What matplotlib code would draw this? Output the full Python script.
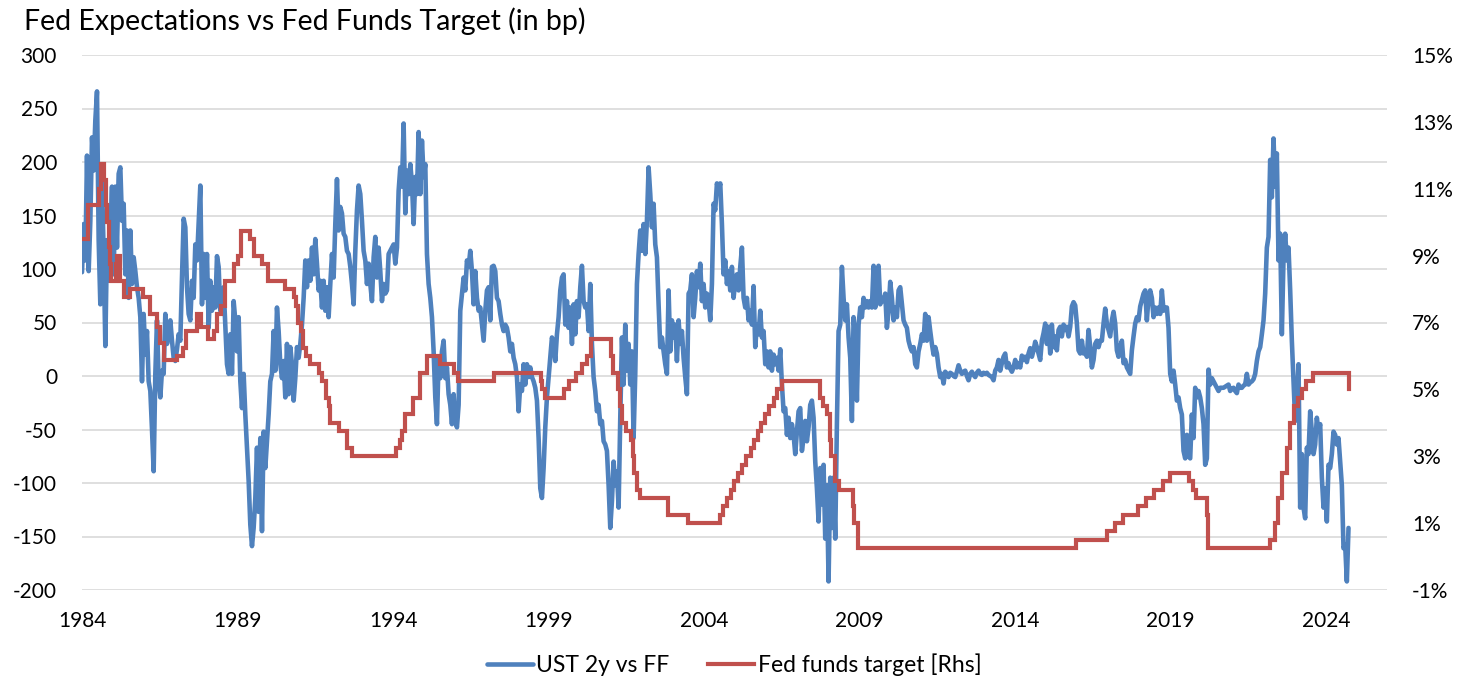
import pandas as pd
import numpy as np
import matplotlib
matplotlib.use('Agg')
import matplotlib.pyplot as plt
import matplotlib.dates as mdates

plt.rcParams['font.family'] = ['Lato', 'DejaVu Sans']
plt.rcParams['axes.unicode_minus'] = False

# UST 2y yield minus fed funds (bp), evenly spaced readings, Jan 1984 - Sep 2024
ust_1984_1990 = [97, 142, 108, 206, 98, 145, 223, 192, 239, 266,
                 127, 67, 183, 115, 28, 127, 89, 136, 177, 95,
                 177, 120, 189, 195, 145, 161, 95, 136, 73, 136,
                 86, 111, 98, 83, 73, 55, -5, 58, 20, 42,
                 -5, -14, -50, -89, 2, 52, -5, -20, 5, 2,
                 58, 30, 40, 52, 33, 17, 14, 25, 39, 33,
                 92, 147, 139, 83, 58, 52, 89, 73, 123, 108,
                 142, 178, 67, 114, 73, 114, 45, 89, 61, 83,
                 64, 112, 102, 61, 70, 83, 48, 11, 2, 39,
                 2, 70, 52, 23, 55, -5, -30, 2, -36, -67,
                 -98, -139, -159, -142, -114, -67, -127, -58, -145, -52,
                 -86, -61, -36, -5, 2, 42, 5, 64, 42, 11,
                 -2, 14, -20, 30, -17]
ust_1990_1997 = [27, 11, -23, -2, 27, 17, 30, 48, 73, 108,
                 83, 108, 89, 120, 95, 128, 105, 80, 89, 64,
                 89, 61, 83, 55, 86, 114, 92, 142, 184, 136,
                 158, 152, 133, 130, 117, 114, 102, 86, 67, 117,
                 155, 178, 170, 145, 117, 108, 86, 105, 86, 70,
                 111, 130, 92, 120, 98, 70, 86, 77, 80, 114,
                 117, 120, 123, 105, 120, 173, 195, 177, 236, 152,
                 192, 170, 198, 180, 142, 186, 170, 228, 170, 220,
                 186, 198, 114, 86, 73, 55, 23, -20, -45, 17,
                 -2, 23, 33, -2, 8, -17, -27, -45, -17, -42,
                 -48, -27, 61, 77, 92, 80, 108, 102, 117, 98,
                 67, 98, 73, 61, 64, 48, 33, 61, 80, 83,
                 52, 102, 103, 98, 73, 70, 58, 48, 42]
ust_1997_2004 = [48, 45, 36, 23, 30, 17, 11, -1, -33, -8,
                 -14, 11, -8, 11, -1, 8, -1, -5, -11, -23,
                 -58, -105, -114, -86, -48, -20, -1, 17, 36, 30,
                 14, 39, 55, 80, 92, 95, 48, 70, 45, 64,
                 30, 67, 39, 70, 55, 83, 103, 70, 64, 67,
                 42, 86, 30, -1, -14, -33, -27, -45, -42, -61,
                 -64, -70, -102, -142, -117, -80, -102, -89, -123, -39,
                 36, -8, 48, 5, 30, -8, 23, -58, 2, 86,
                 114, 136, 117, 142, 114, 145, 195, 170, 139, 161,
                 123, 111, 67, 27, 36, 23, 11, 2, 80, 23,
                 52, 36, 48, 14, 52, 30, 42, 17, -1, -17,
                 77, 80, 95, 55, 73, 98, 83, 105, 70, 86,
                 64, 77, 70, 52, 86, 161, 155, 180, 173]
ust_2004_2011 = [180, 142, 95, 108, 86, 98, 80, 102, 73, 89,
                 95, 80, 102, 120, 73, 64, 73, 52, 61, 48,
                 84, 27, 48, 39, 61, 36, 42, 11, 23, 8,
                 23, 5, 20, 11, 17, 5, 25, -8, -33, -30,
                 -55, -39, -58, -45, -55, -73, -52, -33, -30, -70,
                 -58, -42, -61, -48, -27, -23, -39, -80, -105, -136,
                 -86, -120, -83, -152, -102, -192, -95, -142, -95, -152,
                 -45, 42, 48, 102, 73, 52, 67, 36, 17, -42,
                 55, 36, -23, 48, 64, 55, 73, 64, 70, 64,
                 70, 64, 103, 64, 92, 103, 67, 73, 70, 77,
                 45, 61, 88, 73, 52, 64, 55, 80, 83, 67,
                 52, 48, 45, 33, 27, 23, 27, 11, 8, 23,
                 30, 39, 33, 58, 33, 55, 42, 30, 20]
ust_2011_2018 = [27, 21, 8, -1, 2, -7, 4, 2, -1, 3,
                 2, 0, -1, 4, 10, 5, 2, 4, 5, 0,
                 -4, 2, 4, 1, -1, 3, 5, 2, 1, 3,
                 2, 3, 1, 0, -1, -4, 5, 8, 15, 5,
                 12, 18, 21, 8, 12, 7, 4, 8, 15, 8,
                 12, 8, 19, 15, 18, 13, 21, 26, 18, 24,
                 32, 27, 21, 15, 33, 40, 49, 30, 46, 21,
                 48, 27, 37, 24, 43, 46, 37, 48, 43, 46,
                 37, 46, 65, 69, 66, 49, 24, 21, 33, 21,
                 24, 18, 43, 27, 8, 15, 30, 33, 27, 33,
                 33, 49, 63, 49, 43, 37, 52, 60, 49, 24,
                 18, 27, 33, 12, 15, 8, 5, 2, 24, 37,
                 49, 55, 52, 65, 71, 77, 80, 52, 74]
ust_2018_2024 = [80, 73, 55, 64, 58, 64, 58, 80, 61, 64,
                 64, 45, 2, -5, 5, -8, -23, -20, -30, -36,
                 -70, -77, -55, -75, -77, -36, -58, -11, -20, -14,
                 -20, -30, -45, -83, -77, 6, -8, -2, -5, -8,
                 -11, -14, -11, -11, -11, -10, -9, -8, -14, -12,
                 -11, -14, -16, -8, -11, -11, -9, -8, 2, -8,
                 -6, -5, -3, 2, 14, 23, 27, 39, 52, 77,
                 120, 130, 202, 167, 222, 177, 208, 108, 133, 39,
                 110, 133, 108, 120, 80, 33, -5, -42, -23, 11,
                 -123, -73, -123, -133, -67, -73, -33, -52, -73, -64,
                 -39, -52, -45, -95, -123, -105, -136, -83, -86, -73,
                 -52, -55, -64, -58, -80, -102, -161, -158, -192, -142]

ust2y_vs_ff = (ust_1984_1990 + ust_1990_1997 + ust_1997_2004
               + ust_2004_2011 + ust_2011_2018 + ust_2018_2024)
ust_dates = pd.date_range('1984-01-01', '2024-09-19', periods=len(ust2y_vs_ff))

# Fed funds target (%), value in force from each change date
ff_dates = ['1984-01-01', '1984-03-10', '1984-07-15', '1984-08-10', '1984-09-20',
            '1984-10-10', '1984-10-25', '1984-11-10', '1984-11-25', '1984-12-10',
            '1985-02-01', '1985-02-20', '1985-03-25', '1985-05-10', '1985-07-15',
            '1985-12-20', '1986-03-10', '1986-05-25', '1986-07-10', '1986-08-20',
            '1987-01-20', '1987-04-01', '1987-05-10', '1987-09-10', '1987-10-25',
            '1988-01-20', '1988-03-30', '1988-05-10', '1988-06-25', '1988-08-10',
            '1988-11-20', '1989-01-01', '1989-02-10', '1989-05-25', '1989-07-10',
            '1989-10-20', '1989-12-20', '1990-07-15', '1990-10-30', '1990-11-15',
            '1990-12-10', '1991-01-10', '1991-02-05', '1991-03-10', '1991-05-01',
            '1991-08-10', '1991-09-15', '1991-11-01', '1991-11-10', '1991-12-10',
            '1991-12-22', '1992-04-10', '1992-07-05', '1992-09-05', '1994-02-05',
            '1994-03-25', '1994-04-20', '1994-05-18', '1994-08-18', '1994-11-16',
            '1995-02-02', '1995-07-07', '1995-12-20', '1996-02-01', '1997-03-26',
            '1998-09-30', '1998-10-16', '1998-11-18', '1999-07-01', '1999-08-25',
            '1999-11-17', '2000-02-03', '2000-03-22', '2000-05-17', '2001-01-03',
            '2001-02-01', '2001-03-21', '2001-04-19', '2001-05-16', '2001-06-28',
            '2001-08-22', '2001-09-18', '2001-10-03', '2001-11-07', '2001-12-12',
            '2002-11-07', '2003-06-26', '2004-07-01', '2004-08-11', '2004-09-22',
            '2004-11-11', '2004-12-15', '2005-02-03', '2005-03-23', '2005-05-04',
            '2005-07-01', '2005-08-10', '2005-09-21', '2005-11-02', '2005-12-14',
            '2006-02-01', '2006-03-29', '2006-05-11', '2006-06-30', '2007-09-19',
            '2007-11-01', '2007-12-12', '2008-01-22', '2008-01-31', '2008-03-19',
            '2008-05-01', '2008-10-09', '2008-10-30', '2008-12-17', '2015-12-17',
            '2016-12-15', '2017-03-16', '2017-06-15', '2017-12-14', '2018-03-22',
            '2018-06-14', '2018-09-27', '2018-12-20', '2019-08-01', '2019-09-19',
            '2019-10-31', '2020-03-04', '2020-03-16', '2022-03-17', '2022-05-05',
            '2022-06-16', '2022-07-28', '2022-09-22', '2022-11-03', '2022-12-15',
            '2023-02-02', '2023-03-23', '2023-05-04', '2023-07-27', '2024-09-19',
            '2024-09-20']
ff_target = [9.50, 10.50, 11.00, 11.75, 11.25,
             10.50, 10.00, 9.25, 8.75, 8.25,
             8.75, 9.00, 8.25, 7.75, 8.00,
             7.75, 7.25, 6.875, 6.375, 5.875,
             6.00, 6.25, 6.75, 7.25, 6.875,
             6.50, 6.75, 7.25, 7.50, 8.25,
             8.75, 9.00, 9.75, 9.50, 9.00,
             8.75, 8.25, 8.00, 7.75, 7.50,
             7.00, 6.75, 6.25, 6.00, 5.75,
             5.50, 5.25, 5.00, 4.75, 4.50,
             4.00, 3.75, 3.25, 3.00, 3.25,
             3.50, 3.75, 4.25, 4.75, 5.50,
             6.00, 5.75, 5.50, 5.25, 5.50,
             5.25, 5.00, 4.75, 5.00, 5.25,
             5.50, 5.75, 6.00, 6.50, 6.00,
             5.50, 5.00, 4.50, 4.00, 3.75,
             3.50, 3.00, 2.50, 2.00, 1.75,
             1.25, 1.00, 1.25, 1.50, 1.75,
             2.00, 2.25, 2.50, 2.75, 3.00,
             3.25, 3.50, 3.75, 4.00, 4.25,
             4.50, 4.75, 5.00, 5.25, 4.75,
             4.50, 4.25, 3.50, 3.00, 2.25,
             2.00, 1.50, 1.00, 0.25, 0.50,
             0.75, 1.00, 1.25, 1.50, 1.75,
             2.00, 2.25, 2.50, 2.25, 2.00,
             1.75, 1.25, 0.25, 0.50, 1.00,
             1.75, 2.50, 3.25, 4.00, 4.50,
             4.75, 5.00, 5.25, 5.50, 5.00,
             5.00]

left_ticks = list(range(-200, 301, 50))
right_ticks = list(range(-1, 16, 2))
year_ticks = list(range(1984, 2025, 5))

blue = '#4F81BD'
red = '#C0504D'

fig = plt.figure(figsize=(14.68, 6.8), dpi=100)
ax = fig.add_axes([82 / 1468, 90 / 680, 1305 / 1468, 535 / 680])
ax2 = ax.twinx()

ax.plot(ust_dates, ust2y_vs_ff, color=blue, lw=3.3, solid_joinstyle='round',
        solid_capstyle='round', label='UST 2y vs FF')
ax2.step(pd.to_datetime(ff_dates), ff_target, where='post', color=red, lw=3.0,
         solid_joinstyle='miter', label='Fed funds target [Rhs]')

ax.set_ylim(-200, 300)
ax.set_yticks(left_ticks)
ax2.set_ylim(-1, 15)
ax2.set_yticks(right_ticks)
ax2.set_yticklabels([f'{t}%' for t in right_ticks])

ax.set_xlim(pd.Timestamp('1984-01-01'), pd.Timestamp('2025-12-15'))
ax.set_xticks([pd.Timestamp(f'{y}-01-01') for y in year_ticks])
ax.xaxis.set_major_formatter(mdates.DateFormatter('%Y'))

ax.yaxis.grid(True, color='#D9D9D9', lw=1.2)
ax.set_axisbelow(True)
for a in (ax, ax2):
    for s in a.spines.values():
        s.set_visible(False)
ax.tick_params(axis='y', length=0, pad=18, labelsize=15)
ax.tick_params(axis='x', length=0, pad=15, labelsize=15)
ax2.tick_params(axis='y', length=0, pad=18, labelsize=15)

fig.text(24 / 1468, 1 - 30 / 680, 'Fed Expectations vs Fed Funds Target (in bp)',
         fontsize=20.5, ha='left', va='baseline')

h1, l1 = ax.get_legend_handles_labels()
h2, l2 = ax2.get_legend_handles_labels()
fig.legend(h1 + h2, l1 + l2, loc='center', bbox_to_anchor=(0.5, 15 / 680),
           ncol=2, frameon=False, fontsize=16.5, handlelength=2.0,
           handletextpad=0.15, columnspacing=1.7)

fig.savefig('out.png', dpi=100)
